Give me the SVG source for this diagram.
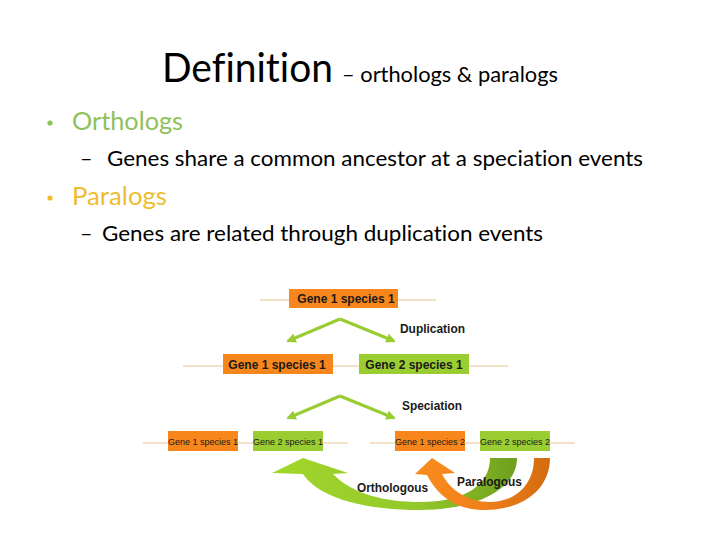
<svg xmlns="http://www.w3.org/2000/svg" width="720" height="540" viewBox="0 0 720 540">
  <style>
    .slide { font-family: Lato, "Open Sans", "Liberation Sans", sans-serif; font-variant-ligatures: none; font-feature-settings: "liga" 0, "clig" 0; }
    .dia { font-family: "Liberation Sans", Arial, sans-serif; fill: #1a1a1a; }
    .lbl { font-weight: bold; font-size: 12px; }
    .box12 { font-weight: bold; font-size: 12px; text-anchor: middle; }
    .box9 { font-size: 9px; text-anchor: middle; }
    .orange { fill: #F7861C; }
    .green { fill: #9ACD32; }
    .tline { stroke: #E6C48E; stroke-width: 1; fill: none; }
    .garrow { stroke: #99CC33; stroke-width: 3; fill: none; marker-end: url(#ah); }
  </style>
  <defs>
    <marker id="ah" viewBox="0 0 10 10" refX="8" refY="5" markerWidth="3.2" markerHeight="3.2" orient="auto" markerUnits="strokeWidth">
      <path d="M0 0 L10 5 L0 10 Z" fill="#99CC33"/>
    </marker>
    <linearGradient id="gg" x1="272" y1="0" x2="517" y2="0" gradientUnits="userSpaceOnUse">
      <stop offset="0" stop-color="#A2D72C"/>
      <stop offset="0.6" stop-color="#93C82A"/>
      <stop offset="1" stop-color="#6F9F1E"/>
    </linearGradient>
    <linearGradient id="og" x1="415" y1="0" x2="550" y2="0" gradientUnits="userSpaceOnUse">
      <stop offset="0" stop-color="#FA8C1E"/>
      <stop offset="0.5" stop-color="#F0801A"/>
      <stop offset="1" stop-color="#D26C10"/>
    </linearGradient>
  </defs>
  <rect width="720" height="540" fill="#ffffff"/>

  <g id="title" class="slide">
    <text x="162" y="82" font-size="40" fill="#000" textLength="171" lengthAdjust="spacingAndGlyphs">Definition</text>
    <text x="342" y="82" font-size="21.5" fill="#000" textLength="216" lengthAdjust="spacingAndGlyphs">– orthologs &amp; paralogs</text>
  </g>

  <g id="bullets" class="slide">
    <circle cx="50" cy="123" r="2.6" fill="#8FC15A"/>
    <text x="72" y="130" font-size="25" fill="#8FC15A" textLength="111" lengthAdjust="spacingAndGlyphs">Orthologs</text>
    <text x="80" y="166" font-size="21.5" fill="#000">–</text>
    <text x="107" y="166" font-size="21.5" fill="#000" textLength="536" lengthAdjust="spacingAndGlyphs">Genes share a common ancestor at a speciation events</text>
    <circle cx="50" cy="198" r="2.6" fill="#EDBD2F"/>
    <text x="72" y="205" font-size="25" fill="#EDBD2F" textLength="95" lengthAdjust="spacingAndGlyphs">Paralogs</text>
    <text x="80" y="241" font-size="21.5" fill="#000">–</text>
    <text x="102" y="241" font-size="21.5" fill="#000" textLength="441" lengthAdjust="spacingAndGlyphs">Genes are related through duplication events</text>
  </g>

  <g id="connectors">
    <line class="tline" x1="260" y1="300" x2="436" y2="300"/>
    <line class="tline" x1="183" y1="366" x2="508" y2="366"/>
    <line class="tline" x1="143" y1="443" x2="348" y2="443"/>
    <line class="tline" x1="370" y1="443" x2="575" y2="443"/>
    <polyline class="garrow" points="340,319 288,341"/>
    <polyline class="garrow" points="340,319 394,341"/>
    <polyline class="garrow" points="340,396 288,418"/>
    <polyline class="garrow" points="340,396 394,418"/>
    <path id="orthologous-arrow" fill="url(#gg)" d="M303 474 C320 500 370 510 420 510 C475 510 517 490 517 458 L490 458 C490 485 465 502 420 502 C385 502 352 494 333 474 L348 473 L303 458 L272 473 Z"/>
    <path id="paralogous-arrow" fill="url(#og)" d="M427 475 C440 500 460 510 485 510 C522 510 550 490 550 458 L534 458 C534 485 515 502 490 502 C468 502 450 490 442 474 L455 473 L432 458 L415 474 Z"/>
  </g>

  <g id="labels" class="dia">
    <text class="lbl" x="400" y="333" textLength="65" lengthAdjust="spacingAndGlyphs">Duplication</text>
    <text class="lbl" x="402" y="410" textLength="60" lengthAdjust="spacingAndGlyphs">Speciation</text>
    <text class="lbl" x="357" y="492" textLength="71" lengthAdjust="spacingAndGlyphs">Orthologous</text>
    <text class="lbl" x="457" y="486" textLength="65" lengthAdjust="spacingAndGlyphs">Paralogous</text>
  </g>

  <g id="node-g1s1-top" class="dia">
    <rect class="orange" x="289" y="289" width="109" height="19"/>
    <text class="box12" x="346" y="303">Gene 1 species 1</text>
  </g>
  <g id="node-g1s1-mid" class="dia">
    <rect class="orange" x="223" y="354" width="110" height="20"/>
    <text class="box12" x="277" y="368.5">Gene 1 species 1</text>
  </g>
  <g id="node-g2s1-mid" class="dia">
    <rect class="green" x="359" y="354" width="110" height="20"/>
    <text class="box12" x="414" y="368.5">Gene 2 species 1</text>
  </g>
  <g id="node-g1s1-bot" class="dia">
    <rect class="orange" x="168" y="431" width="70" height="20"/>
    <text class="box9" x="203" y="444.5">Gene 1 species 1</text>
  </g>
  <g id="node-g2s1-bot" class="dia">
    <rect class="green" x="253" y="431" width="70" height="20"/>
    <text class="box9" x="288" y="444.5">Gene 2 species 1</text>
  </g>
  <g id="node-g1s2-bot" class="dia">
    <rect class="orange" x="395" y="431" width="70" height="20"/>
    <text class="box9" x="430" y="444.5">Gene 1 species 2</text>
  </g>
  <g id="node-g2s2-bot" class="dia">
    <rect class="green" x="480" y="431" width="70" height="20"/>
    <text class="box9" x="515" y="444.5">Gene 2 species 2</text>
  </g>
</svg>
